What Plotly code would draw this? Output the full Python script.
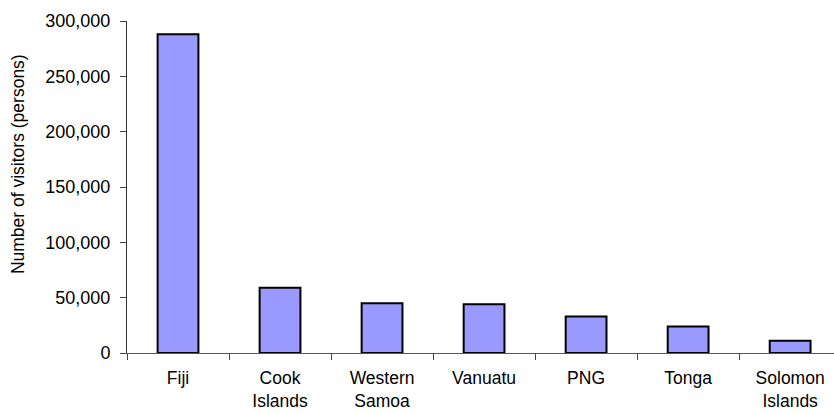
import plotly.graph_objects as go

# Visitor arrivals by Pacific island country
countries = ["Fiji", "Cook<br>Islands", "Western<br>Samoa", "Vanuatu", "PNG", "Tonga", "Solomon<br>Islands"]
visitors = [288000, 59000, 45000, 44000, 33000, 24000, 11000]

y_ticks = [0, 50000, 100000, 150000, 200000, 250000, 300000]
y_tick_text = ["0", "50,000", "100,000", "150,000", "200,000", "250,000", "300,000"]

font_family = "Liberation Sans, Arial, sans-serif"
label_size = 18

fig = go.Figure(
    go.Bar(
        x=countries,
        y=visitors,
        marker=dict(color="#9999FF", line=dict(color="#000000", width=2)),
        width=0.4,
    )
)

fig.update_layout(
    width=834,
    height=413,
    margin=dict(l=127, r=0, t=21, b=60),
    paper_bgcolor="white",
    plot_bgcolor="white",
    showlegend=False,
    font=dict(family=font_family, size=label_size, color="#000000"),
    annotations=[
        dict(
            text="Number of visitors (persons)",
            xref="paper", yref="paper",
            x=-109 / 707, y=0.569,
            xanchor="center", yanchor="middle",
            textangle=-90,
            showarrow=False,
            font=dict(family=font_family, size=17.5, color="#000000"),
        )
    ],
)

fig.update_xaxes(
    type="category",
    range=[-0.5, 6.43],
    automargin=False,
    tickson="boundaries",
    ticks="outside",
    ticklen=6,
    tickcolor="#444444",
    ticklabelstandoff=9,
    showline=True,
    linecolor="#555555",
    linewidth=1,
    showgrid=False,
    zeroline=False,
    tickfont=dict(size=17.5),
)

fig.update_yaxes(
    range=[0, 300000],
    automargin=False,
    tickvals=y_ticks,
    ticktext=y_tick_text,
    ticks="outside",
    ticklen=6,
    tickcolor="#444444",
    ticklabelstandoff=6,
    showline=True,
    linecolor="#333333",
    linewidth=1,
    showgrid=False,
    zeroline=False,
    tickfont=dict(size=label_size),
)

fig.write_html("out.html")
